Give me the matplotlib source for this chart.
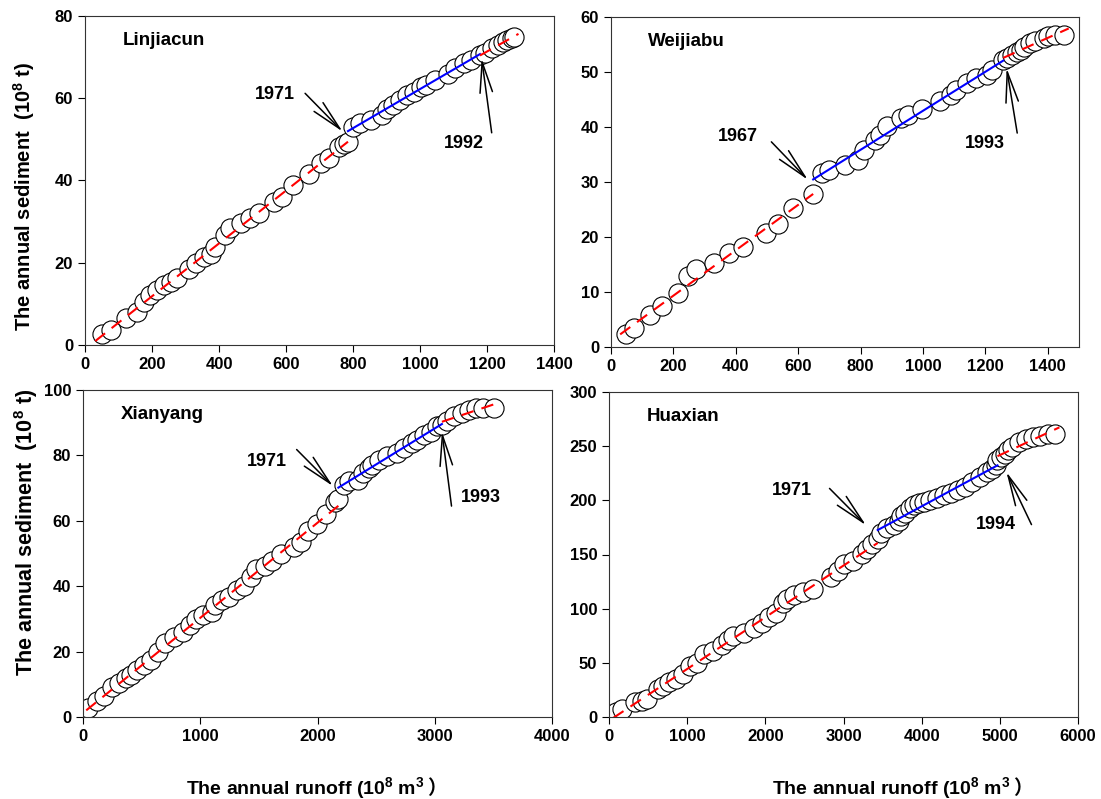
import numpy as np
import matplotlib
matplotlib.use("Agg")
import matplotlib.pyplot as plt

plt.rcParams['font.family'] = ['Liberation Sans', 'Noto Sans CJK SC']
plt.rcParams['font.weight'] = 'bold'
plt.rcParams['mathtext.fontset'] = 'custom'
plt.rcParams['mathtext.rm'] = 'Liberation Sans:bold'
plt.rcParams['mathtext.default'] = 'rm'

# Linjiacun
lj_runoff = [51, 78, 122, 155, 177, 195, 216, 235, 256, 274, 309, 331, 354, 376, 388,
             418, 434, 466, 493, 519, 565, 588, 620, 668, 705, 729, 759, 774, 785,
             801, 822, 854, 886, 902, 918, 939, 961, 982, 1003, 1019, 1046, 1083, 1104,
             1131, 1152, 1179, 1195, 1216, 1232, 1248, 1259, 1274, 1280]
lj_sediment = [2.6, 3.6, 6.5, 8.1, 10.5, 12.2, 13.4, 14.6, 15.4, 16.4, 18.4, 19.9, 21.5, 22.1, 23.9,
               26.7, 28.4, 29.6, 30.8, 32.2, 34.8, 36.1, 38.9, 41.6, 44.2, 45.5, 48.2, 48.9, 49.4,
               53.1, 54.0, 54.7, 55.9, 57.5, 58.3, 59.6, 60.8, 61.6, 62.8, 63.2, 64.4, 66.0, 67.3,
               68.5, 69.3, 70.5, 70.9, 72.1, 72.9, 73.7, 74.1, 74.6, 75.0]
lj_breaks = [29, 46]

# Weijiabu
wj_runoff = [49, 75, 124, 163, 215, 247, 273, 329, 379, 424, 496, 534, 583, 648,
             677, 698, 749, 792, 812, 847, 861, 884, 929, 952, 998, 1056, 1090, 1107,
             1142, 1170, 1205, 1222, 1257, 1268, 1285, 1302, 1314, 1325, 1343, 1360,
             1389, 1400, 1423, 1452]
wj_sediment = [2.4, 3.5, 5.8, 7.4, 9.8, 12.9, 14.1, 15.2, 17.1, 18.2, 20.8, 22.3, 25.2, 27.8,
               31.7, 32.1, 33.1, 34.0, 35.9, 37.6, 38.6, 40.1, 41.6, 42.2, 43.2, 44.8, 45.8, 46.8,
               48.0, 48.9, 49.5, 50.4, 52.2, 52.5, 53.1, 53.7, 54.0, 54.6, 55.3, 55.6,
               56.2, 56.5, 56.7, 56.7]
wj_breaks = [14, 33]

# Xianyang
xy_runoff = [46, 122, 183, 244, 305, 366, 411, 457, 518, 579, 640, 701, 777, 853, 914,
             960, 1020, 1097, 1127, 1188, 1249, 1310, 1371, 1432, 1477, 1553, 1614, 1691,
             1797, 1858, 1919, 1995, 2071, 2147, 2178,
             2224, 2269, 2345, 2391, 2437, 2467, 2528, 2589, 2680, 2741, 2802, 2848, 2909,
             2970, 3016, 3061, 3107, 3168, 3229, 3290, 3351, 3412, 3503]
xy_sediment = [2.7, 4.8, 6.5, 9.3, 10.3, 11.9, 12.9, 14.4, 15.9, 17.4, 20.0, 22.5, 24.5, 26.0, 28.1,
               30.1, 31.1, 32.1, 34.1, 35.7, 36.7, 38.7, 40.2, 42.8, 45.3, 46.3, 47.8, 49.8,
               51.9, 53.4, 56.9, 59.0, 62.0, 65.6, 66.6,
               71.1, 72.1, 72.6, 74.7, 76.2, 77.2, 78.7, 79.7, 80.8, 82.3, 83.8, 84.8, 86.3,
               87.3, 88.9, 89.4, 90.4, 91.9, 92.9, 93.9, 94.4, 94.6, 94.4]
xy_breaks = [35, 51]

# Huaxian
hx_runoff = [87, 169, 329, 421, 489, 626, 695, 764, 855, 947, 1038, 1129, 1221, 1335, 1450,
             1518, 1587, 1724, 1861, 1952, 2044, 2135, 2227, 2273, 2364, 2478, 2615, 2844,
             2935, 3004, 3118, 3232, 3301, 3370, 3438,
             3484, 3553, 3644, 3713, 3736, 3781, 3850, 3896, 3964, 4033, 4102, 4193, 4284,
             4376, 4467, 4559, 4650, 4742, 4833, 4902, 4947, 4970, 5016, 5061, 5107, 5153,
             5244, 5336, 5427, 5519, 5610, 5702]
hx_sediment = [4.6, 7.6, 13.7, 15.2, 16.7, 25.8, 28.8, 31.9, 34.9, 39.5, 47.1, 50.1, 57.7, 60.7, 66.8,
               71.4, 74.4, 77.4, 82.0, 86.5, 92.6, 95.7, 104.8, 109.3, 112.4, 115.4, 118.4, 129.1,
               135.1, 141.2, 144.2, 150.3, 154.9, 159.4, 164.0,
               170.1, 174.6, 177.6, 180.7, 185.2, 188.3, 192.8, 195.9, 197.4, 198.9, 200.4, 201.9, 205.0,
               206.5, 209.5, 212.6, 217.1, 221.7, 226.2, 229.3, 232.3, 236.9, 239.9, 242.9, 246.0, 249.0,
               253.6, 256.6, 258.1, 259.6, 261.2, 261.2]
hx_breaks = [35, 57]

stations = ["Linjiacun", "Weijiabu", "Xianyang", "Huaxian"]
break_years = [("1971", "1992"), ("1967", "1993"), ("1971", "1993"), ("1971", "1994")]

# label position, arrow tail, arrow tip (data coords) for each year note
notes = [
    [((567, 60.8), (657, 61.2), (769, 51.9)), ((1131, 49.0), (1214, 51.6), (1184, 69.7))],
    [((407, 38.2), (514, 37.3), (631, 30.4)), ((1199, 37.0), (1302, 38.9), (1268, 50.7))],
    [((1569, 78.2), (1822, 81.8), (2132, 70.6)), ((3396, 67.1), (3143, 64.5), (3061, 87.3))],
    [((2341, 209.5), (2821, 211), (3288, 177)), ((4948, 178), (5405, 177.6), (5084, 226.2))],
]

W, H = 1101, 799
boxes = [(85, 554, 16, 345), (611, 1079, 17, 347), (83, 552, 390, 717), (609, 1078, 392, 717)]
xlims = [(0, 1400, 200), (0, 1500, 200), (0, 4000, 1000), (0, 6000, 1000)]
ylims = [(0, 80, 20), (0, 60, 10), (0, 100, 20), (0, 300, 50)]

data = [(lj_runoff, lj_sediment, lj_breaks), (wj_runoff, wj_sediment, wj_breaks),
        (xy_runoff, xy_sediment, xy_breaks), (hx_runoff, hx_sediment, hx_breaks)]

fig = plt.figure(figsize=(W/100, H/100), dpi=100)

for i in range(4):
    l, r, t, b = boxes[i]
    ax = fig.add_axes([l/W, 1-b/H, (r-l)/W, (b-t)/H])
    x = np.array(data[i][0], dtype=float)
    y = np.array(data[i][1], dtype=float)
    n1, n2 = data[i][2]

    segs = [(0, n1), (n1, n2), (n2-1, len(x))]
    for k, (a, e) in enumerate(segs):
        sx, sy = x[a:e], y[a:e]
        c = np.polyfit(sx, sy, 1)
        if k == 0:
            x0 = sx[0]*0.6
        elif k == 1:
            x0 = x[a-1]
        else:
            x0 = sx[0]
        x1 = sx[-1] + (xlims[i][1]*0.01 if k == 2 else 0)
        lx = np.array([x0, x1])
        if k == 1:
            ax.plot(lx, np.polyval(c, lx), color='blue', lw=1.5, zorder=3)
        else:
            ax.plot(lx, np.polyval(c, lx), color='red', lw=1.5, ls=(0, (6, 4)), zorder=3)

    ax.scatter(x, y, s=190, facecolors='white', edgecolors='black', linewidths=0.8, zorder=2)

    for j in range(2):
        (tx, ty), tail, tip = notes[i][j]
        ax.text(tx, ty, break_years[i][j], fontsize=13, fontweight='bold', ha='center', va='center')
        ax.annotate('', xy=tip, xytext=tail,
                    arrowprops=dict(arrowstyle='->,head_length=2.2,head_width=0.45',
                                    color='black', lw=1.1, shrinkA=0, shrinkB=0))

    ax.text(0.08, 0.925, stations[i], transform=ax.transAxes, fontsize=13.5,
            fontweight='bold', ha='left', va='center')

    ax.set_xlim(xlims[i][0], xlims[i][1])
    ax.set_ylim(ylims[i][0], ylims[i][1])
    ax.set_xticks(np.arange(0, 1401 if i < 2 else xlims[i][1]+1, xlims[i][2]))
    ax.set_yticks(np.arange(0, ylims[i][1]+1, ylims[i][2]))
    ax.tick_params(labelsize=12, direction='out', length=5, width=0.8)
    for lab in ax.get_xticklabels() + ax.get_yticklabels():
        lab.set_fontweight('bold')
    for sp in ax.spines.values():
        sp.set_linewidth(0.8)
        sp.set_color('#333333')

    if i == 0:
        ax.set_ylabel("The annual sediment  (10$^8$ t)", fontsize=14.5, fontweight='bold')
        ax.yaxis.set_label_coords(-0.102, 0.451)
    if i == 2:
        ax.set_ylabel("The annual sediment  (10$^8$ t)", fontsize=15.5, fontweight='bold')
        ax.yaxis.set_label_coords(-0.092, 0.563)

# x labels: the full-width bracket is not in the mathtext font, so it goes on as its own text
fig.canvas.draw()
for left in (186, 772):
    t1 = fig.text(left/W, 5/H, "The annual runoff (10$^8$ m$^3$", fontsize=14,
                  fontweight='bold', ha='left', va='baseline')
    fig.canvas.draw()
    bb = t1.get_window_extent()
    fig.text(bb.x1/W + 3/W, 5/H, "）", fontsize=14, family='Noto Sans CJK SC',
             ha='left', va='baseline')

plt.savefig("out.png", dpi=100)
